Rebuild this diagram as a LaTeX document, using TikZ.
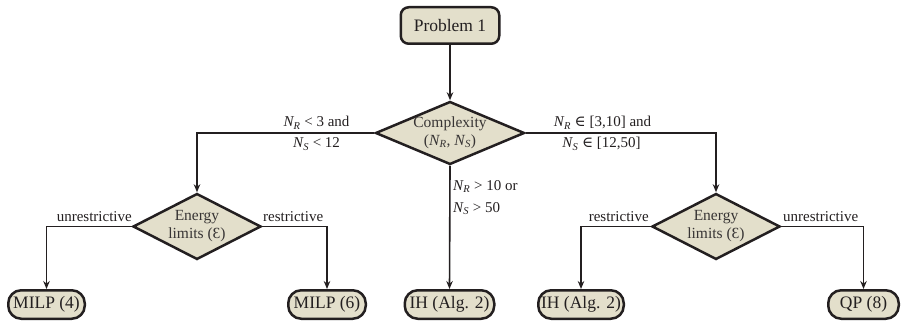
\documentclass[tikz,border=0pt]{standalone}
\usepackage{fontspec}
\setmainfont{Liberation Serif}
\newfontfamily\dvfont{DejaVu Serif}
\newcommand{\Nsub}[1]{\textit{N}\kern-0.5pt\textsubscript{\textit{#1}}}
\newcommand{\elem}{{\dvfont\char"2208}}
\usetikzlibrary{shapes.geometric,arrows.meta}
\definecolor{boxfill}{RGB}{227,223,203}
\definecolor{ink}{RGB}{35,31,32}
\definecolor{soft}{RGB}{55,52,52}
\begin{document}
\begin{tikzpicture}[x=1pt,y=-1pt,
  box/.style={draw=ink, line width=2.5pt, fill=boxfill, rounded corners=8pt, minimum width=98.5pt, minimum height=36.5pt, inner sep=0pt, font=\fontsize{17.5}{20}\selectfont, text=ink},
  leaf/.style={draw=ink, line width=2.5pt, fill=boxfill, rounded corners=13pt, minimum height=28.5pt, inner sep=0pt, font=\fontsize{17.5}{20}\selectfont, text=ink},
  dec/.style={diamond, draw=ink, line width=2.5pt, fill=boxfill, inner sep=0pt},
  dectext/.style={align=center, font=\fontsize{15.5}{18}\selectfont, text=soft, inner sep=0pt},
  arr/.style={draw=ink, line width=1.6pt, -{Stealth[length=8pt,width=6.5pt]}},
  lab/.style={font=\fontsize{15}{17}\selectfont, inner sep=0pt, text=ink}]
\useasboundingbox (0,0) rectangle (901,323);
% nodes
\node[box] (p) at (450,25.5) {Problem 1};
\node[dec, minimum width=149pt, minimum height=63pt,
  label={[dectext]center:Complexity\\(\Nsub{R}, \Nsub{S})}] (c) at (450,133) {};
\node[dec, minimum width=128pt, minimum height=66pt,
  label={[dectext]center:Energy\\limits (Ɛ)}] (e1) at (197,226.5) {};
\node[dec, minimum width=128pt, minimum height=66pt,
  label={[dectext]center:Energy\\limits (Ɛ)}] (e2) at (716,226.5) {};
\node[leaf, minimum width=76.5pt] (l1) at (46.5,304.5) {MILP (4)};
\node[leaf, minimum width=77.5pt] (l2) at (327,304.5) {MILP (6)};
\node[leaf, minimum width=89.5pt] (l3) at (449.5,304.5) {IH (Alg. 2)};
\node[leaf, minimum width=85.5pt] (l4) at (581,304.5) {IH (Alg. 2)};
\node[leaf, minimum width=70.5pt] (l5) at (863.5,304.5) {QP (8)};
% connectors
\draw[arr] (p) -- (c);
\draw[arr] (c.west) -| (e1.north);
\draw[arr] (c.east) -| (e2.north);
\draw[arr] (c.south) -- (l3.north);
\draw[arr] (e1.west) -| (l1.north);
\draw[arr] (e1.east) -| (l2.north);
\draw[arr] (e2.west) -| (l4.north);
\draw[arr] (e2.east) -| (l5.north);
% labels
\node[lab, anchor=base] (t1) at (316.5,127) {\Nsub{R} < 3 and};
\node[lab, anchor=base] (t2) at (316.5,148) {\Nsub{S} < 12};
\node[lab, anchor=base] (t3) at (602.5,127) {\Nsub{R} \elem{} [3,10] and};
\node[lab, anchor=base] (t4) at (601.5,148) {\Nsub{S} \elem{} [12,50]};
\node[lab, anchor=base west] (t5) at (453,190) {\Nsub{R} > 10 or};
\node[lab, anchor=base west] (t6) at (453,212) {\Nsub{S} > 50};
\node[lab, anchor=base east] (u1) at (132,221) {unrestrictive};
\node[lab, anchor=base west] (r1) at (263,221) {restrictive};
\node[lab, anchor=base east] (r2) at (649,221) {restrictive};
\node[lab, anchor=base west] (u2) at (783,221) {unrestrictive};
\end{tikzpicture}
\end{document}
